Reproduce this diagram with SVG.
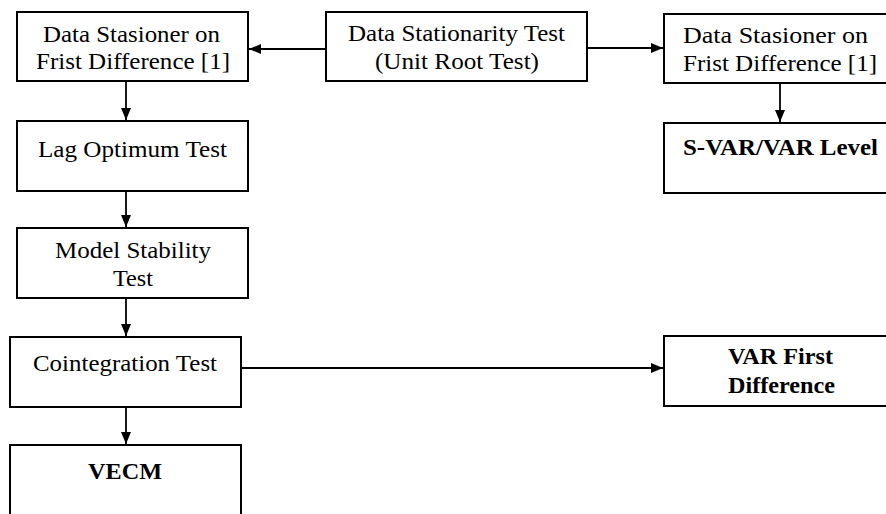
<svg xmlns="http://www.w3.org/2000/svg" width="886" height="514" viewBox="0 0 886 514">
<style>
.box{fill:#fff;stroke:#000;stroke-width:2}
.t{font-family:"Liberation Serif","Times New Roman",serif;font-size:24px;fill:#000;text-anchor:middle}
.b{font-weight:bold}
.c{stroke:#000;stroke-width:1.8;fill:none;marker-end:url(#ah)}
</style>
<defs>
<marker id="ah" viewBox="0 0 12 10" refX="12" refY="5" markerWidth="12" markerHeight="10" markerUnits="userSpaceOnUse" orient="auto">
<path d="M0,0 L12,5 L0,10 Z" fill="#000"/>
</marker>
</defs>
<rect width="886" height="514" fill="#fff"/>
<g id="connectors">
<line class="c" x1="326" y1="49" x2="249" y2="49"/>
<line class="c" x1="587" y1="48" x2="663" y2="48"/>
<line class="c" x1="780" y1="83" x2="780" y2="122"/>
<line class="c" x1="126" y1="81" x2="126" y2="120"/>
<line class="c" x1="126" y1="191" x2="126" y2="227"/>
<line class="c" x1="126" y1="298" x2="126" y2="336"/>
<line class="c" x1="241" y1="368" x2="663" y2="368"/>
<line class="c" x1="126" y1="407" x2="126" y2="444"/>
</g>
<g id="stasioner-left">
<rect class="box" x="17" y="12" width="231" height="69"/>
<text class="t" x="131.5" y="42" textLength="177" lengthAdjust="spacingAndGlyphs">Data Stasioner on</text>
<text class="t" x="133" y="69" textLength="194" lengthAdjust="spacingAndGlyphs">Frist Difference [1]</text>
</g>
<g id="stationarity-test">
<rect class="box" x="326" y="12" width="261" height="69"/>
<text class="t" x="456.5" y="41" textLength="217" lengthAdjust="spacingAndGlyphs">Data Stationarity Test</text>
<text class="t" x="457" y="69" textLength="164" lengthAdjust="spacingAndGlyphs">(Unit Root Test)</text>
</g>
<g id="stasioner-right">
<rect class="box" x="664" y="14" width="232" height="69"/>
<text class="t" x="775.5" y="43" textLength="185" lengthAdjust="spacingAndGlyphs">Data Stasioner on</text>
<text class="t" x="780" y="71" textLength="194" lengthAdjust="spacingAndGlyphs">Frist Difference [1]</text>
</g>
<g id="svar-level">
<rect class="box" x="664" y="123" width="232" height="70"/>
<text class="t b" x="780.5" y="155" textLength="195" lengthAdjust="spacingAndGlyphs">S-VAR/VAR Level</text>
</g>
<g id="lag-optimum">
<rect class="box" x="17" y="121" width="231" height="70"/>
<text class="t" x="132.5" y="157" textLength="189" lengthAdjust="spacingAndGlyphs">Lag Optimum Test</text>
</g>
<g id="model-stability">
<rect class="box" x="17" y="228" width="231" height="70"/>
<text class="t" x="133" y="258" textLength="156" lengthAdjust="spacingAndGlyphs">Model Stability</text>
<text class="t" x="133" y="286" textLength="40" lengthAdjust="spacingAndGlyphs">Test</text>
</g>
<g id="cointegration">
<rect class="box" x="10" y="337" width="231" height="70"/>
<text class="t" x="125" y="371" textLength="184" lengthAdjust="spacingAndGlyphs">Cointegration Test</text>
</g>
<g id="vecm">
<rect class="box" x="10" y="445" width="231" height="100"/>
<text class="t b" x="125" y="479" textLength="74" lengthAdjust="spacingAndGlyphs">VECM</text>
</g>
<g id="var-first-difference">
<rect class="box" x="664" y="336" width="232" height="70"/>
<text class="t b" x="780.5" y="364" textLength="105" lengthAdjust="spacingAndGlyphs">VAR First</text>
<text class="t b" x="781.5" y="393" textLength="107" lengthAdjust="spacingAndGlyphs">Difference</text>
</g>
</svg>
